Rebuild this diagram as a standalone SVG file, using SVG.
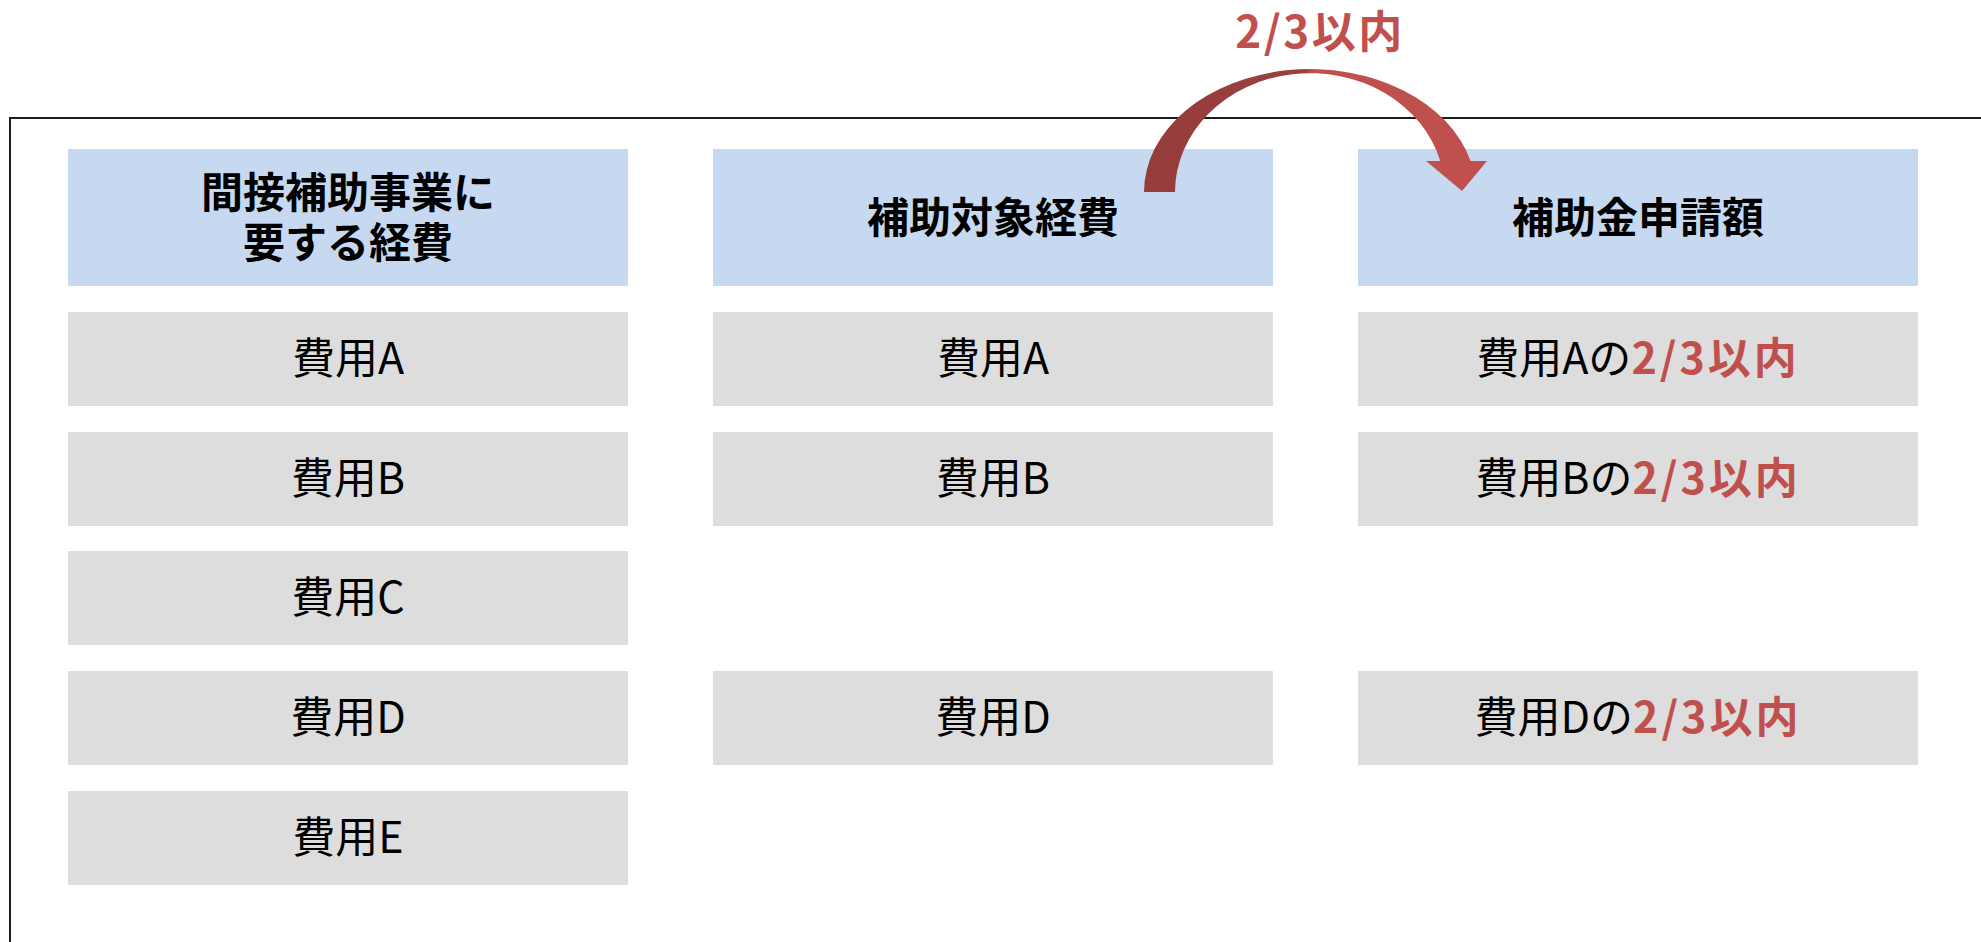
<svg xmlns="http://www.w3.org/2000/svg" width="1981" height="942" viewBox="0 0 1981 942">
<defs>
<style>
.hdr{fill:#C6D9F1}
.row{fill:#DDDDDD}
.ht{font-family:"Noto Sans CJK JP","Noto Sans",sans-serif;font-weight:bold;font-size:42px;fill:#000;text-anchor:middle}
.rt{font-family:"Noto Sans CJK JP","Noto Sans",sans-serif;font-size:43px;fill:#000;text-anchor:middle}
.red{fill:#C0504D;font-weight:bold;letter-spacing:3px}
.lbl{font-family:"Noto Sans CJK JP","Noto Sans",sans-serif;font-weight:bold;font-size:44px;fill:#C0504D;text-anchor:middle;letter-spacing:2.5px}
</style>
<linearGradient id="arrowGrad" gradientUnits="userSpaceOnUse" x1="1144" y1="0" x2="1487" y2="0">
<stop offset="0" stop-color="#953D3B"/>
<stop offset="0.47" stop-color="#9B403E"/>
<stop offset="0.49" stop-color="#C0504D"/>
<stop offset="1" stop-color="#C0504D"/>
</linearGradient>
</defs>
<rect width="1981" height="942" fill="#fff"/>
<path d="M10,942 V118 H1981" fill="none" stroke="#1a1a1a" stroke-width="2"/>

<g id="col1-header"><rect class="hdr" x="68" y="149" width="560" height="137"/><text class="ht" x="348" y="208">間接補助事業に</text><text class="ht" x="348" y="258">要する経費</text></g>
<g id="col2-header"><rect class="hdr" x="713" y="149" width="560" height="137"/><text class="ht" x="993" y="233">補助対象経費</text></g>
<g id="col3-header"><rect class="hdr" x="1358" y="149" width="560" height="137"/><text class="ht" x="1638" y="233">補助金申請額</text></g>

<g id="c1-a"><rect class="row" x="68" y="312" width="560" height="94"/><text class="rt" x="348" y="374">費用A</text></g>
<g id="c1-b"><rect class="row" x="68" y="432" width="560" height="94"/><text class="rt" x="348" y="494">費用B</text></g>
<g id="c1-c"><rect class="row" x="68" y="551" width="560" height="94"/><text class="rt" x="348" y="613">費用C</text></g>
<g id="c1-d"><rect class="row" x="68" y="671" width="560" height="94"/><text class="rt" x="348" y="733">費用D</text></g>
<g id="c1-e"><rect class="row" x="68" y="791" width="560" height="94"/><text class="rt" x="348" y="853">費用E</text></g>

<g id="c2-a"><rect class="row" x="713" y="312" width="560" height="94"/><text class="rt" x="993" y="374">費用A</text></g>
<g id="c2-b"><rect class="row" x="713" y="432" width="560" height="94"/><text class="rt" x="993" y="494">費用B</text></g>
<g id="c2-d"><rect class="row" x="713" y="671" width="560" height="94"/><text class="rt" x="993" y="733">費用D</text></g>

<g id="c3-a"><rect class="row" x="1358" y="312" width="560" height="94"/><text class="rt" x="1638" y="374">費用Aの<tspan class="red">2/3以内</tspan></text></g>
<g id="c3-b"><rect class="row" x="1358" y="432" width="560" height="94"/><text class="rt" x="1638" y="494">費用Bの<tspan class="red">2/3以内</tspan></text></g>
<g id="c3-d"><rect class="row" x="1358" y="671" width="560" height="94"/><text class="rt" x="1638" y="733">費用Dの<tspan class="red">2/3以内</tspan></text></g>

<g id="connectors">
<path d="M1144,192 A166,123 0 0 1 1470.6,161 H1487 L1462,191 L1426,161 H1440.3 A135,119 0 0 0 1175,192 Z" fill="url(#arrowGrad)"/>
</g>
<g id="arrow-label"><text class="lbl" x="1320" y="48">2/3以内</text></g>
</svg>
